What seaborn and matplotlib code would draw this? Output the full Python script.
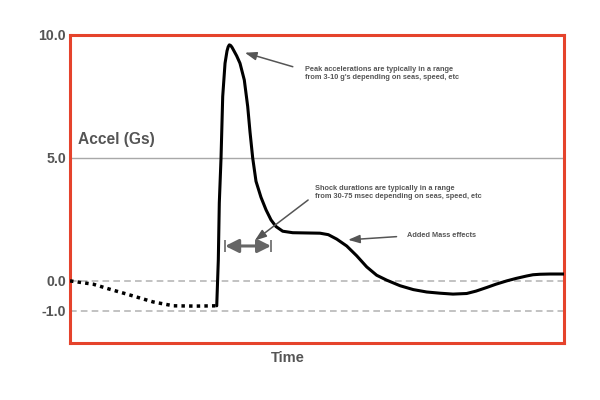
import numpy as np
import matplotlib
matplotlib.use("Agg")
import matplotlib.pyplot as plt
import seaborn as sns
import pandas as pd

# time runs 0-100 across the frame (arbitrary units), accel in g
pre_time = [0, 4.7, 8.1, 11.5, 16.8, 20.9, 25.3, 29.7]
pre_accel = [0, -0.11, -0.28, -0.44, -0.70, -0.83, -0.84, -0.83]

shock_time = [29.70, 30.02, 30.22, 30.57, 30.91, 31.38, 31.78, 32.02, 32.25, 32.53,
              32.79, 33.20, 33.74, 34.41, 35.28, 35.97, 36.44, 36.98, 37.65, 38.66,
              39.68, 40.69, 41.70, 43.06, 45.08, 47.77, 50.61, 52.29, 53.99, 56.01,
              58.04, 60.06, 62.08, 64.11, 66.80, 69.49, 72.21, 74.90, 77.53, 80.30,
              82.19, 84.35, 86.23, 88.40, 90.28, 92.45, 93.72, 95.14, 97.17, 100]
shock_accel = [-0.83, 0.85, 3.17, 5.0, 7.5, 8.85, 9.35, 9.52, 9.6, 9.57,
               9.5, 9.35, 9.15, 8.85, 8.17, 7.09, 6.05, 5.0, 4.05, 3.4,
               2.89, 2.48, 2.21, 2.02, 1.96, 1.95, 1.94, 1.88, 1.70, 1.42,
               1.02, 0.57, 0.23, 0.03, -0.16, -0.29, -0.37, -0.41, -0.44, -0.42,
               -0.34, -0.22, -0.11, 0.0, 0.1, 0.2, 0.25, 0.27, 0.28, 0.28]

tick_values = [10, 5, 0, -1]
tick_labels = ["10.0", "5.0", "0.0", "-1.0"]

grey = "#555555"
red = "#e5432c"

sns.set_style("white")
plt.rcParams["font.family"] = ["Liberation Sans", "DejaVu Sans"]

pre_df = pd.DataFrame({"time": pre_time, "accel": pre_accel})
shock_df = pd.DataFrame({"time": shock_time, "accel": shock_accel})

fig = plt.figure(figsize=(6, 4), dpi=100)
ax = fig.add_axes([0.1167, 0.1425, 0.8233, 0.77])

# the negative part of the sketch is drawn a bit stretched
k = 1.22
def fwd(y):
    y = np.asarray(y, dtype=float)
    return np.where(y < 0, y * k, y)
def inv(v):
    v = np.asarray(v, dtype=float)
    return np.where(v < 0, v / k, v)
ax.set_yscale("function", functions=(fwd, inv))

ax.axhline(5, color="#a8a8a8", lw=1, zorder=1)
ax.axhline(0, color="#b8b8b8", lw=1.2, ls=(0, (4, 2.5)), zorder=1)
ax.axhline(-1, color="#b8b8b8", lw=1.2, ls=(0, (4, 2.5)), zorder=1)

sns.lineplot(data=pre_df, x="time", y="accel", ax=ax, color="black", lw=2.5,
             linestyle=(0, (1, 1.2)), sort=False, estimator=None, zorder=3)
sns.lineplot(data=shock_df, x="time", y="accel", ax=ax, color="black", lw=2.2,
             sort=False, estimator=None, zorder=3)

ax.set_xlim(0, 100)
ax.set_ylim(-2.07, 10)
ax.set_xticks([])
ax.set_yticks(tick_values)
ax.set_yticklabels(tick_labels)
ax.tick_params(axis="y", length=0, pad=3, labelsize=10.2, labelcolor=grey)
for lab in ax.get_yticklabels():
    lab.set_fontweight("bold")

for s in ax.spines.values():
    s.set_visible(True)
    s.set_color(red)
    s.set_linewidth(2.2)

ax.set_ylabel("")
ax.set_xlabel("Time", fontsize=10.5, fontweight="bold", color=grey)
ax.xaxis.set_label_coords(0.441, -0.025)

ax.text(1.6, 5.73, "Accel (Gs)", fontsize=11.2, fontweight="bold", color=grey,
        ha="left", va="center")

note = dict(fontsize=5.3, fontweight="bold", color=grey, ha="left", va="center",
            linespacing=1.25)
ax.text(47.6, 8.42, "Peak accelerations are typically in a range\n"
        "from 3-10 g's depending on seas, speed, etc", **note)
ax.text(49.6, 3.59, "Shock durations are typically in a range\n"
        "from 30-75 msec depending on seas, speed, etc", **note)
ax.text(68.2, 1.83, "Added Mass effects", **note)

thin = dict(arrowstyle="-|>,head_length=0.7,head_width=0.25", color=grey,
            lw=1.1, shrinkA=0, shrinkB=0)
ax.annotate("", xy=(35.4, 9.28), xytext=(45.1, 8.71), arrowprops=thin)
ax.annotate("", xy=(37.4, 1.64), xytext=(48.2, 3.29), arrowprops=thin)
ax.annotate("", xy=(56.3, 1.67), xytext=(66.1, 1.80), arrowprops=thin)

ax.annotate("", xy=(31.4, 1.42), xytext=(40.7, 1.42),
            arrowprops=dict(arrowstyle="<|-|>,head_length=0.8,head_width=0.4",
                            color="#666666", lw=2.2, shrinkA=0, shrinkB=0))
ax.vlines([31.4, 40.7], 1.18, 1.67, color="#666666", lw=1.2)

fig.savefig("out.png", dpi=100)
